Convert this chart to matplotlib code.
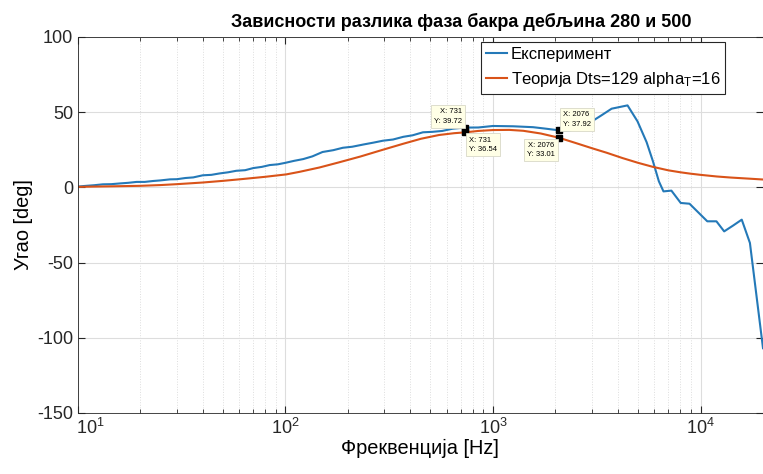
import matplotlib
matplotlib.use("Agg")
import matplotlib.pyplot as plt
import matplotlib.transforms as mtransforms
import numpy as np

plt.rcParams['font.family'] = ['Liberation Sans', 'DejaVu Sans']
plt.rcParams['mathtext.fontset'] = 'custom'
plt.rcParams['mathtext.rm'] = 'Liberation Sans'
plt.rcParams['mathtext.default'] = 'regular'
plt.rcParams['axes.unicode_minus'] = False

# experiment (blue)
f_exp = [10, 11, 12, 13.2, 14.5, 16, 17.5, 19.2, 21, 23, 25, 27.8, 30, 33, 36,
         40, 44, 48, 53, 58, 64, 70, 77, 84, 92, 100, 110, 122, 135, 151, 170,
         189, 210, 240, 265, 295, 330, 370, 410, 460, 510, 570, 640, 731, 850,
         1000, 1250, 1560, 1800, 2076, 2300, 2600, 2830, 3300, 3730, 4450, 4970,
         5500, 5900, 6300, 6630, 7240, 8030, 8850, 10780, 11930, 13000, 14400,
         15800, 17300, 20000]
ph_exp = [0.5, 1.0, 1.4, 2.0, 2.1, 2.6, 3.0, 3.6, 3.6, 4.2, 4.6, 5.3, 5.4, 6.2,
          6.6, 8.0, 8.3, 9.2, 10.0, 11.0, 11.4, 12.8, 13.6, 14.8, 15.3, 16.3,
          17.6, 18.8, 20.6, 23.5, 24.7, 26.3, 27.0, 28.6, 29.7, 31.0, 31.8, 33.6,
          34.6, 36.6, 36.9, 37.5, 39.0, 39.72, 39.8, 40.8, 40.6, 40.0, 39.0,
          37.92, 37.7, 39.0, 41.7, 47.5, 52.3, 54.5, 43.9, 30.0, 17.3, 4.0,
          -2.7, -2.2, -10.4, -10.9, -22.6, -22.6, -29.3, -25.3, -21.5, -37.0,
          -107.0]

# theory (orange)
f_th = [10, 12, 15, 20, 25, 30, 40, 50, 62, 80, 101, 117, 146, 180, 230, 295,
        370, 450, 550, 650, 731, 850, 1000, 1200, 1400, 1700, 2076, 2500, 3000,
        3530, 4200, 5000, 5900, 7000, 8000, 8920, 10000, 12000, 14000, 17000,
        20000]
ph_th = [0.3, 0.5, 0.7, 1.0, 1.5, 2.1, 3.2, 4.3, 5.5, 7.0, 8.6, 10.3, 13.2,
         16.5, 20.5, 25.0, 29.0, 32.3, 34.8, 36.0, 36.54, 37.5, 38.1, 38.2,
         37.6, 35.8, 33.01, 29.5, 26.0, 23.0, 19.5, 16.3, 13.6, 11.3, 10.0, 9.1,
         8.3, 7.2, 6.5, 5.8, 5.2]

# data tips: (x, y, text offset in points, alignment)
tips = [(731, 39.72, (-2, 2), 'right', 'bottom'),
        (731, 36.54, (3, -3), 'left', 'top'),
        (2076, 37.92, (3, 2), 'left', 'bottom'),
        (2076, 33.01, (-3, -3), 'right', 'top')]

fig = plt.figure(figsize=(7.63, 4.74), dpi=100)
ax = fig.add_axes([0.102, 0.129, 0.898, 0.793])

ax.semilogx(f_exp, ph_exp, color='#2479B8', lw=1.5, label='Експеримент')
ax.semilogx(f_th, ph_th, color='#D95319', lw=1.5,
            label='Теорија Dts=129 alpha$_T$=16')

for x, y, off, ha, va in tips:
    ax.plot([x], [y], 's', color='k', ms=4.5, zorder=5)
    ax.annotate('X: %g\nY: %.2f' % (x, y), (x, y), xytext=off,
                textcoords='offset points', ha=ha, va=va, fontsize=5.5,
                linespacing=1.5,
                bbox=dict(boxstyle='square,pad=0.4', fc='#FFFFE6',
                          ec='#D8D8C8', lw=0.6), zorder=6)

ax.set_xlim(10, 2e4)
ax.set_ylim(-150, 100)
ax.set_yticks([-150, -100, -50, 0, 50, 100])
ax.grid(True, which='major', color='#DDDDDD', lw=0.8)
ax.grid(True, which='minor', axis='x', color='#DDDDDD', lw=0.7, ls=':')
ax.tick_params(which='both', direction='in', top=True, right=True,
               colors='#262626', labelsize=13)
ax.tick_params(which='major', length=5)
ax.tick_params(which='minor', length=3)
for s in ax.spines.values():
    s.set_color('#262626')
    s.set_linewidth(0.6)

ax.set_title('Зависности разлика фаза бакра дебљина 280 и 500', x=0.559,
             fontsize=13, fontweight='bold', pad=7)
ax.set_xlabel('Фреквенција [Hz]', fontsize=14.4, labelpad=1)
ax.set_ylabel('Угао [deg]', fontsize=14.4, labelpad=3)

leg = ax.legend(loc='upper left', bbox_to_anchor=(0.630, 0.911),
                bbox_transform=fig.transFigure, fontsize=12, fancybox=False,
                framealpha=1, edgecolor='#262626', handlelength=1.3,
                handletextpad=0.2, borderpad=0.3, labelspacing=0.45,
                borderaxespad=0)
leg.get_frame().set_linewidth(0.8)

# first x tick label sits a bit to the right, as in the original
fig.canvas.draw()
for t in ax.xaxis.get_major_ticks():
    if abs(t.get_loc() - 10) < 1e-9:
        t.label1.set_transform(t.label1.get_transform() +
                               mtransforms.ScaledTranslation(0.12, 0, fig.dpi_scale_trans))

fig.savefig('out.png', dpi=100)
